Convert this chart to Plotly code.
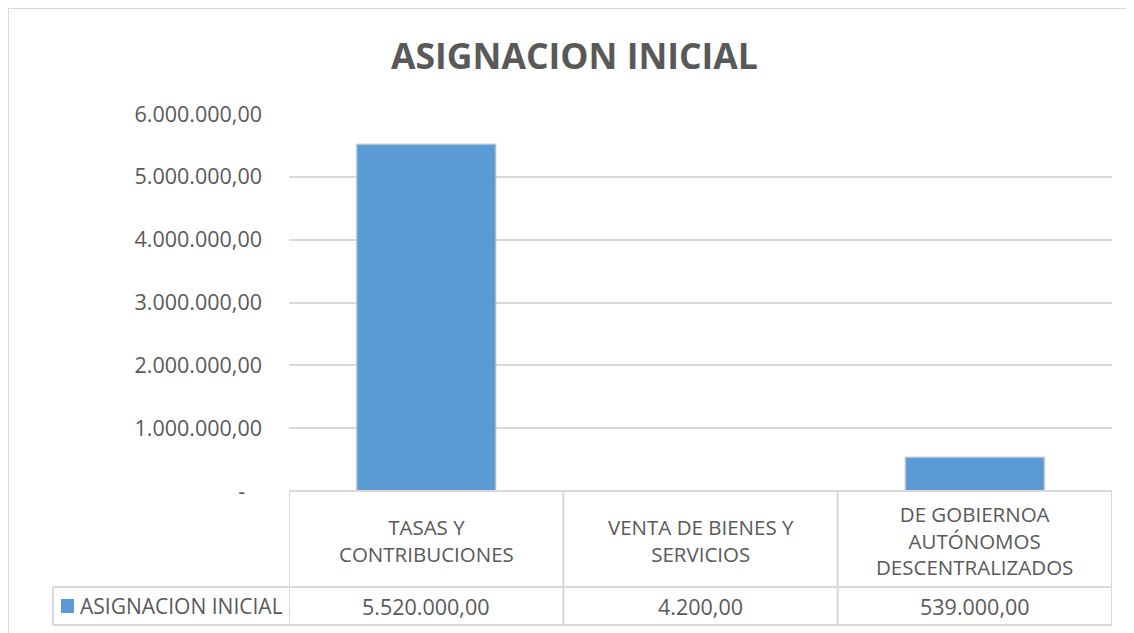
import plotly.graph_objects as go

categories = ["TASAS Y<br>CONTRIBUCIONES", "VENTA DE BIENES Y<br>SERVICIOS",
              "DE GOBIERNOA<br>AUTÓNOMOS<br>DESCENTRALIZADOS"]
values = [5520000.00, 4200.00, 539000.00]
series_name = "ASIGNACION INICIAL"
title_text = "ASIGNACION INICIAL"
y_ticks = [0, 1000000, 2000000, 3000000, 4000000, 5000000, 6000000]

OFF = 8  # page body margin
W, H = 1134 - OFF, 633 - OFF
L, R, T, B = 289, 1112, 114, 491  # window pixel positions of the plot area
FONT = "Open Sans"
TXT = "#595959"
LINE = "#d9d9d9"
BLUE = "#5b9bd5"


def fmt(v):
    s = f"{v:,.2f}"
    return s.replace(",", "X").replace(".", ",").replace("X", ".")


def tick_label(v):
    return "-\u00a0\u00a0\u00a0" if v == 0 else fmt(v)


def px(p):
    return (p - L) / (R - L)


def py(p):
    return (B - p) / (B - T)


xs = list(range(len(categories)))

fig = go.Figure()
fig.add_trace(go.Bar(
    x=xs, y=values, name=series_name,
    marker=dict(color=BLUE, line=dict(color="rgba(200,200,200,0.5)", width=2)),
    showlegend=False,
))

shapes = []
ln = dict(color=LINE, width=2)
# outer chart border (left and top)
shapes.append(dict(type="line", xref="paper", yref="paper", x0=px(8), x1=px(8), y0=py(8), y1=py(640), line=ln))
shapes.append(dict(type="line", xref="paper", yref="paper", x0=px(8), x1=px(1140), y0=py(8), y1=py(8), line=ln))
# table horizontal lines
shapes.append(dict(type="line", xref="x", yref="paper", x0=-0.5, x1=len(categories) - 0.5, y0=py(491), y1=py(491), line=ln))
for yy in (587, 625):
    shapes.append(dict(type="line", xref="paper", yref="paper", x0=px(53), x1=1, y0=py(yy), y1=py(yy), line=ln))
shapes.append(dict(type="line", xref="paper", yref="paper", x0=px(53), x1=px(53), y0=py(587), y1=py(625), line=ln))
for i in range(len(categories) + 1):
    xb = i - 0.5
    shapes.append(dict(type="line", xref="x", yref="paper", x0=xb, x1=xb, y0=py(491), y1=py(625), line=ln))
# legend key square
shapes.append(dict(type="rect", xref="paper", yref="paper", x0=px(61), x1=px(74), y0=py(599), y1=py(613),
                   line=dict(width=0), fillcolor=BLUE))

annotations = []
for i, c in enumerate(categories):
    annotations.append(dict(x=i, y=py(540), xref="x", yref="paper", text=c, showarrow=False,
                            font=dict(family=FONT, size=20.5, color=TXT), align="center",
                            xanchor="center", yanchor="middle"))
    annotations.append(dict(x=i, y=py(606), xref="x", yref="paper", text=fmt(values[i]), showarrow=False,
                            font=dict(family=FONT, size=21.5, color=TXT), xanchor="center", yanchor="middle"))
annotations.append(dict(x=px(78), y=py(606), xref="paper", yref="paper", text=series_name, showarrow=False,
                        font=dict(family=FONT, size=21, color=TXT), xanchor="left", yanchor="middle"))

fig.update_layout(
    width=W, height=H,
    margin=dict(l=L - OFF, r=W - (R - OFF), t=T - OFF, b=H - (B - OFF)),
    paper_bgcolor="white", plot_bgcolor="white",
    title=dict(text=f"<b>{title_text}</b>", x=(574.5 - OFF) / W, xanchor="center",
               y=1 - (57 - OFF) / H, yanchor="middle",
               font=dict(family=FONT, size=35.5, color=TXT)),
    bargap=0.493,
    shapes=shapes,
    annotations=annotations,
    showlegend=False,
)
fig.update_xaxes(range=[-0.5, len(categories) - 0.5], showticklabels=False, showgrid=False,
                 zeroline=False, showline=False, fixedrange=True)
fig.update_yaxes(range=[0, 6000000], tickvals=y_ticks, ticktext=[tick_label(v) for v in y_ticks],
                 showgrid=True, gridcolor=LINE, gridwidth=1.5, zeroline=False, showline=False,
                 ticks="", ticklabelstandoff=26,
                 tickfont=dict(family=FONT, size=21.5, color=TXT))

fig.write_html("out.html")
